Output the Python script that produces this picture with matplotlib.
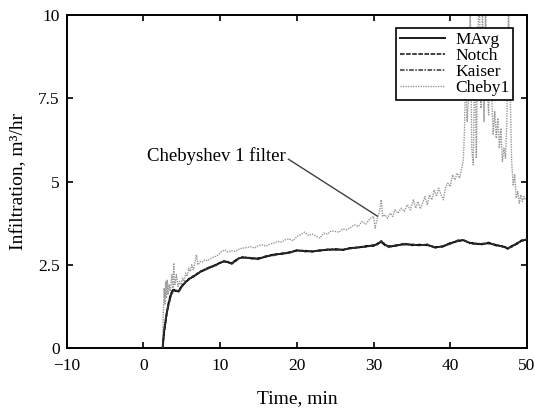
import matplotlib
matplotlib.use("Agg")
import matplotlib.pyplot as plt

plt.rcParams['font.family'] = ['Liberation Serif', 'DejaVu Serif']

# ---- data ----
t_main = [2.5, 2.7, 3.0, 3.3, 3.6, 3.9, 4.2, 4.6, 5.0, 5.5,
          6.0, 6.5, 7.0, 7.5, 8.0, 8.5, 9.0, 9.5, 10.0, 10.5,
          11.0, 11.5, 12.0, 12.5, 13.0, 14.0, 15.0, 16.0, 17.0, 18.0,
          19.0, 20.0, 21.0, 22.0, 23.0, 24.0, 25.0, 26.0, 27.0, 28.0,
          29.0, 30.0, 30.5, 31.0, 31.5, 32.0, 33.0, 34.0, 35.0, 36.0,
          37.0, 38.0, 39.0, 40.0, 41.0, 41.7, 42.5, 43.0, 44.0, 45.0,
          46.0, 47.0, 47.5, 48.0, 48.7, 49.3, 50.0]
mavg = [0.0, 0.5, 1.0, 1.35, 1.6, 1.75, 1.72, 1.70, 1.85, 1.98,
        2.08, 2.15, 2.22, 2.30, 2.35, 2.40, 2.45, 2.50, 2.56, 2.60,
        2.58, 2.54, 2.62, 2.70, 2.72, 2.70, 2.68, 2.75, 2.80, 2.83,
        2.86, 2.93, 2.91, 2.90, 2.93, 2.95, 2.96, 2.95, 3.00, 3.02,
        3.05, 3.08, 3.12, 3.20, 3.10, 3.04, 3.08, 3.12, 3.10, 3.09,
        3.10, 3.02, 3.05, 3.14, 3.22, 3.24, 3.16, 3.14, 3.12, 3.15,
        3.09, 3.04, 2.99, 3.05, 3.14, 3.22, 3.26]
notch = [0.0, 0.45, 0.95, 1.40, 1.65, 1.78, 1.70, 1.72, 1.88, 1.96,
         2.10, 2.13, 2.24, 2.28, 2.37, 2.42, 2.44, 2.52, 2.55, 2.62,
         2.56, 2.55, 2.64, 2.69, 2.74, 2.68, 2.70, 2.74, 2.82, 2.82,
         2.88, 2.92, 2.93, 2.89, 2.94, 2.94, 2.98, 2.94, 3.01, 3.01,
         3.07, 3.06, 3.14, 3.18, 3.08, 3.06, 3.07, 3.14, 3.08, 3.11,
         3.08, 3.04, 3.04, 3.16, 3.20, 3.25, 3.14, 3.16, 3.10, 3.17,
         3.07, 3.06, 2.97, 3.07, 3.12, 3.24, 3.24]
kaiser = [0.0, 0.55, 1.05, 1.30, 1.58, 1.72, 1.74, 1.69, 1.83, 2.00,
          2.06, 2.17, 2.20, 2.32, 2.33, 2.41, 2.47, 2.48, 2.58, 2.59,
          2.60, 2.52, 2.60, 2.71, 2.70, 2.72, 2.66, 2.77, 2.78, 2.85,
          2.85, 2.95, 2.89, 2.92, 2.91, 2.97, 2.94, 2.97, 2.98, 3.04,
          3.03, 3.10, 3.10, 3.22, 3.12, 3.02, 3.10, 3.10, 3.12, 3.07,
          3.12, 3.00, 3.07, 3.12, 3.24, 3.22, 3.18, 3.12, 3.14, 3.13,
          3.11, 3.02, 3.01, 3.03, 3.16, 3.20, 3.28]

t_cheby = [2.5, 2.6, 2.7, 2.8, 2.9, 3.0, 3.1, 3.2, 3.35, 3.5,
           3.7, 3.85, 3.95, 4.1, 4.3, 4.5, 4.7, 4.9, 5.1, 5.3,
           5.5, 5.7, 5.9, 6.1, 6.3, 6.5, 6.7, 6.9, 7.1, 7.4,
           7.7, 8.0, 8.4, 8.7, 9.0, 9.4, 9.8, 10.2, 10.6, 11.0,
           11.5, 12.0, 12.5, 13.0, 13.5, 14.0, 14.5, 15.0, 15.5, 16.0,
           16.5, 17.0, 17.5, 18.0, 18.5, 19.0, 19.5, 20.0, 20.5, 21.0,
           21.5, 22.0, 22.5, 23.0, 23.5, 24.0, 24.5, 25.0, 25.5, 26.0,
           26.5, 27.0, 27.5, 28.0, 28.5, 29.0, 29.5, 30.0, 30.2, 30.5,
           30.8, 31.0, 31.2, 31.5, 31.8, 32.2, 32.5, 32.8, 33.2, 33.6,
           34.0, 34.4, 34.8, 35.2, 35.5, 35.8, 36.1, 36.4, 36.7, 37.0,
           37.3, 37.6, 37.9, 38.2, 38.5, 38.8, 39.1, 39.4, 39.7, 40.0,
           40.3, 40.6, 40.9, 41.2, 41.5, 41.7, 41.85, 42.0, 42.2, 42.4,
           42.6, 42.8, 43.0, 43.2, 43.4, 43.6, 43.8, 44.0, 44.2, 44.4,
           44.6, 44.8, 45.0, 45.2, 45.4, 45.6, 45.8, 46.0, 46.2, 46.4,
           46.6, 46.8, 47.0, 47.2, 47.4, 47.6, 47.8, 48.0, 48.2, 48.4,
           48.6, 48.8, 49.0, 49.2, 49.4, 49.6, 49.8, 50.0]
cheby1 = [0.0, 1.2, 1.8, 1.3, 2.0, 1.5, 2.05, 1.6, 1.9, 1.7,
          2.2, 1.8, 2.55, 1.9, 2.2, 1.85, 2.0, 1.9, 2.1, 2.0,
          2.25, 2.15, 2.4, 2.3, 2.5, 2.35, 2.55, 2.8, 2.5, 2.6,
          2.58, 2.65, 2.62, 2.68, 2.72, 2.75, 2.8, 2.9, 2.95, 2.88,
          2.92, 2.9, 2.98, 3.0, 3.02, 3.04, 3.0, 3.08, 3.1, 3.06,
          3.12, 3.15, 3.2, 3.18, 3.25, 3.28, 3.22, 3.35, 3.40, 3.48,
          3.38, 3.42, 3.36, 3.30, 3.45, 3.42, 3.52, 3.50, 3.48, 3.58,
          3.55, 3.62, 3.70, 3.65, 3.80, 3.72, 3.88, 3.95, 3.60, 3.90,
          4.10, 4.45, 3.95, 4.00, 3.90, 4.05, 3.95, 4.15, 4.05, 4.20,
          4.10, 4.30, 4.15, 4.45, 4.20, 4.40, 4.18, 4.35, 4.55, 4.30,
          4.60, 4.45, 4.75, 4.55, 4.80, 4.60, 4.45, 4.85, 4.95, 4.85,
          5.20, 5.05, 5.25, 5.10, 5.40, 5.65, 6.5, 8.2, 6.8, 7.6,
          10.5, 6.0, 5.5, 8.8, 5.7, 9.5, 10.5, 7.2, 10.5, 6.8,
          10.5, 8.0, 7.0, 9.0, 7.5, 6.4, 7.1, 6.3, 6.9, 6.0,
          6.6, 5.6, 6.0, 5.7, 7.0, 10.5, 7.8, 5.6, 4.9, 5.2,
          4.5, 4.7, 4.35, 4.6, 4.4, 4.55, 4.45, 4.5]

x_ticks = [-10, 0, 10, 20, 30, 40, 50]
y_ticks = [0, 2.5, 5, 7.5, 10]
y_tick_labels = ['0', '2.5', '5', '7.5', '10']

annot_text = 'Chebyshev 1 filter'
annot_text_xy = (0.44, 5.61)
annot_line_x = [18.9, 30.5]
annot_line_y = [5.67, 3.96]

# ---- figure ----
fig = plt.figure(figsize=(5.35, 4.12), dpi=100)
ax = fig.add_axes([0.1247, 0.1553, 0.8603, 0.8083])

ax.plot(t_cheby, cheby1, color='0.6', lw=1.0, ls=(0, (1, 0.8)), label='Cheby1', zorder=2)
ax.plot(t_main, mavg, color='0.1', lw=1.4, ls='-', label='MAvg', zorder=3)
ax.plot(t_main, notch, color='0.05', lw=1.1, ls=(0, (3, 1)), label='Notch', zorder=3)
ax.plot(t_main, kaiser, color='0.2', lw=1.1, ls=(0, (3, 1, 1, 1)), label='Kaiser', zorder=3)

ax.plot(annot_line_x, annot_line_y, color='0.25', lw=1.0, zorder=4)
ax.text(annot_text_xy[0], annot_text_xy[1], annot_text, fontsize=13.5,
        ha='left', va='baseline')

ax.set_xlim(-10, 50)
ax.set_ylim(0, 10)
ax.set_xticks(x_ticks)
ax.set_yticks(y_ticks)
ax.set_yticklabels(y_tick_labels)
ax.tick_params(direction='in', top=True, right=True, length=4, width=1.2,
               labelsize=12.5)
ax.tick_params(axis='x', pad=7)
ax.tick_params(axis='y', pad=5)
for s in ax.spines.values():
    s.set_linewidth(1.4)

ax.set_xlabel('Time, min', fontsize=14, labelpad=12)
ax.set_ylabel('Infiltration, m³/hr', fontsize=14, labelpad=8)

handles, labels = ax.get_legend_handles_labels()
order = [1, 2, 3, 0]
leg = ax.legend([handles[i] for i in order], [labels[i] for i in order],
                loc='upper right', bbox_to_anchor=(0.9696, 0.961),
                fontsize=12.5, frameon=True, fancybox=False,
                edgecolor='black', framealpha=1, labelspacing=0.0,
                handlelength=2.6, handletextpad=0.6, borderpad=0.2,
                borderaxespad=0.0)
leg.get_frame().set_linewidth(1.2)

fig.savefig('out.png', dpi=100)
